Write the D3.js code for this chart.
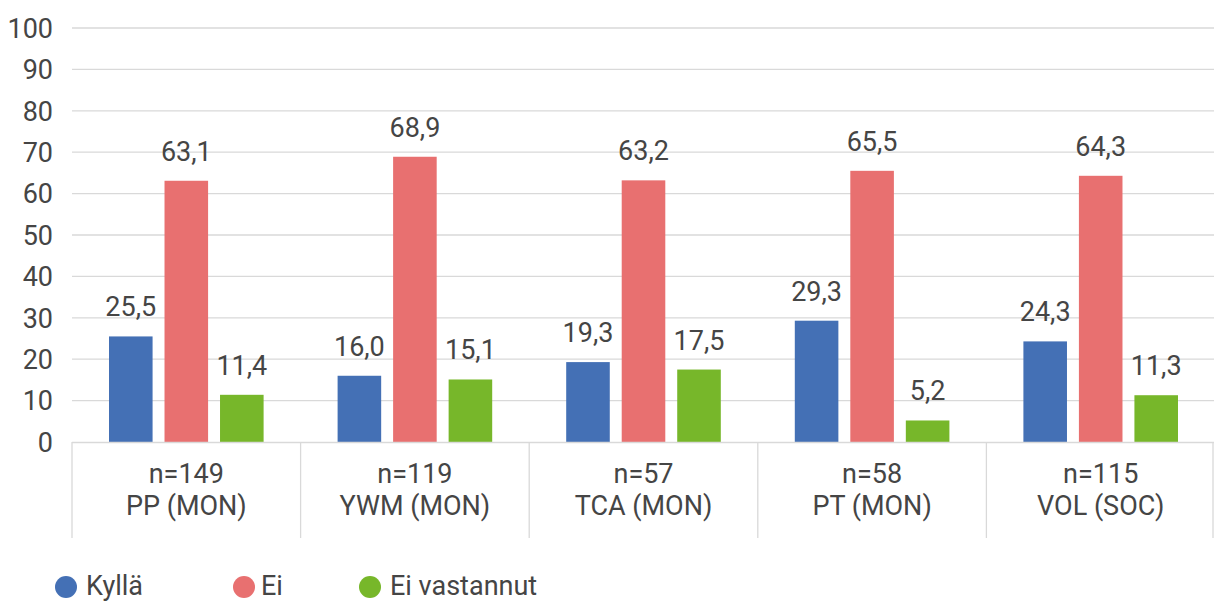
<!DOCTYPE html>
<html><head><meta charset="utf-8">
<script src="https://cdn.jsdelivr.net/npm/d3@7"></script>
<style>body{margin:0;background:#fff}svg{display:block;font-family:Roboto,"DejaVu Sans",sans-serif}</style>
</head><body><svg id="c" width="1214" height="603"></svg>
<script>
const groupsN = ["n=149","n=119","n=57","n=58","n=115"];
const groupsName = ["PP (MON)","YWM (MON)","TCA (MON)","PT (MON)","VOL (SOC)"];
const seriesNames = ["Kyllä","Ei","Ei vastannut"];
const kylla = [25.5,16.0,19.3,29.3,24.3];
const ei = [63.1,68.9,63.2,65.5,64.3];
const eiVastannut = [11.4,15.1,17.5,5.2,11.3];
const yTicks = [0,10,20,30,40,50,60,70,80,90,100];
const colors = ["#4470b5","#e87070","#77b72a"];
const series = [kylla, ei, eiVastannut];
const FS = 27, TXT = "#454545";

const svg = d3.select("#c");
const x0 = d3.scaleBand().domain(d3.range(groupsN.length)).range([72,1215]);
const x1 = d3.scaleBand().domain(d3.range(3)).range([37, x0.bandwidth()-37]).paddingInner(0.215);
const y = d3.scaleLinear().domain([0,100]).range([442,28]);
const fmt = v => v.toFixed(1).replace(".", ",");

svg.append("g").selectAll("line").data(yTicks.filter(t=>t>0)).join("line")
  .attr("x1",72).attr("x2",1214).attr("y1",d=>y(d)).attr("y2",d=>y(d))
  .attr("stroke","#d9d9d9").attr("stroke-width",1.3);
svg.append("g").selectAll("text").data(yTicks).join("text")
  .attr("x",53).attr("y",d=>y(d)).attr("dy","0.36em").attr("text-anchor","end")
  .attr("font-size",FS).attr("fill",TXT).text(d=>d);

const g = svg.append("g").selectAll("g").data(d3.range(groupsN.length)).join("g")
  .attr("transform",i=>`translate(${x0(i)},0)`);
g.selectAll("rect").data(i=>series.map((s,k)=>({k,v:s[i]}))).join("rect")
  .attr("x",d=>x1(d.k)).attr("width",x1.bandwidth())
  .attr("y",d=>y(d.v)).attr("height",d=>y(0)-y(d.v)).attr("fill",d=>colors[d.k]);
g.selectAll("text.v").data(i=>series.map((s,k)=>({k,v:s[i]}))).join("text").attr("class","v")
  .attr("x",d=>x1(d.k)+x1.bandwidth()/2).attr("y",d=>y(d.v)-20).attr("text-anchor","middle")
  .attr("font-size",FS).attr("fill",TXT).text(d=>fmt(d.v));

svg.append("line").attr("x1",72).attr("x2",1214).attr("y1",442.5).attr("y2",442.5)
  .attr("stroke","#d9d9d9").attr("stroke-width",1.3);
const seps = d3.range(groupsN.length+1).map(i=> i<groupsN.length ? x0(i) : x0.range()[1]);
svg.append("g").selectAll("line").data(seps).join("line")
  .attr("x1",d=>Math.min(d,1213)).attr("x2",d=>Math.min(d,1213)).attr("y1",442).attr("y2",538)
  .attr("stroke","#d9d9d9").attr("stroke-width",1.3);
const lab = svg.append("g").selectAll("g").data(d3.range(groupsN.length)).join("g")
  .attr("transform",i=>`translate(${x0(i)+x0.bandwidth()/2},0)`);
lab.append("text").attr("y",483).attr("text-anchor","middle").attr("font-size",FS).attr("fill",TXT).text(i=>groupsN[i]);
lab.append("text").attr("y",515).attr("text-anchor","middle").attr("font-size",FS).attr("fill",TXT).text(i=>groupsName[i]);

const legX = [66,244,370];
const lg = svg.append("g").selectAll("g").data(seriesNames).join("g")
  .attr("transform",(d,i)=>`translate(${legX[i]},587)`);
lg.append("circle").attr("r",11).attr("fill",(d,i)=>colors[i]);
lg.append("text").attr("x",(d,i)=>i===1?17:20).attr("y",8).attr("font-size",FS).attr("fill",TXT).text(d=>d);
</script></body></html>
